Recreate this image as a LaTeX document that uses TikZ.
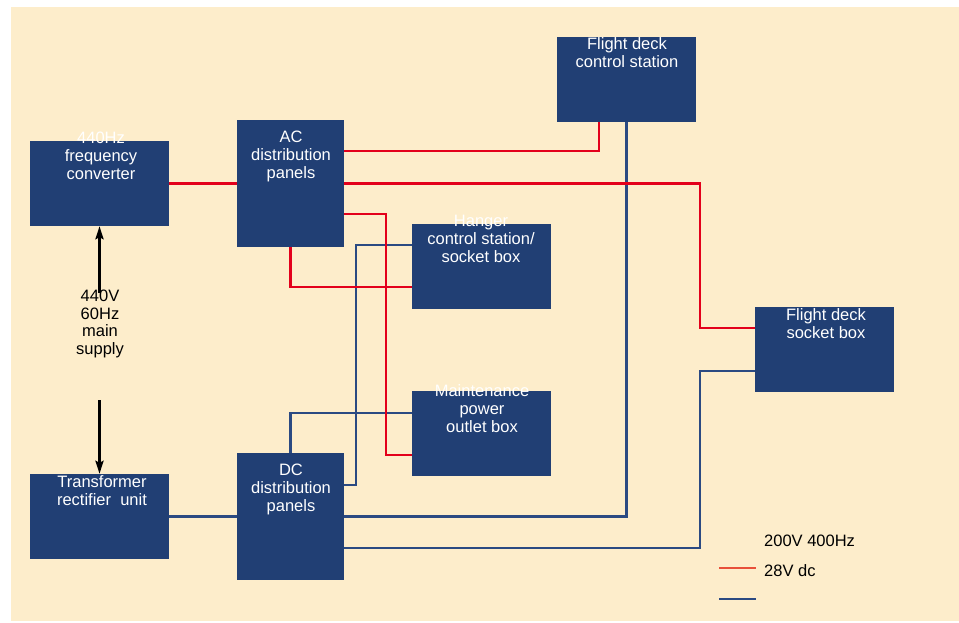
\documentclass[tikz,border=0pt]{standalone}
\usepackage{fontspec}
\setmainfont{Liberation Sans}
\usetikzlibrary{arrows.meta,backgrounds}
\definecolor{cream}{HTML}{FDEDCB}
\definecolor{navy}{HTML}{213F74}
\definecolor{redl}{HTML}{E3001B}
\definecolor{bluel}{HTML}{2B4A82}
\definecolor{legred}{HTML}{E8503A}
\begin{document}
\begin{tikzpicture}[x=1pt,y=-1pt,
  unitbox/.style={draw=none,fill=navy,inner sep=0pt,minimum width=139pt,minimum height=85pt},
  panelbox/.style={draw=none,fill=navy,inner sep=0pt,minimum width=107pt,minimum height=127pt},
  boxtext/.style={text=white,inner sep=0pt,anchor=north,align=center,font=\fontsize{16.5}{18}\selectfont},
  plaintext/.style={text=black,inner sep=0pt,font=\fontsize{16.5}{17.5}\selectfont},
  acline/.style={draw=redl,line width=2.5pt},
  dcline/.style={draw=bluel,line width=2.2pt},
  feed/.style={draw=black,line width=2.5pt,-{Stealth[length=13pt,width=8pt,inset=2pt]}}]
\useasboundingbox (0,0) rectangle (959,623);
% boxes
\path (99.5,183.5) node[unitbox] (fc) {};
\path (290.5,183.5) node[panelbox] (ac) {};
\path (99.5,516.5) node[unitbox] (tru) {};
\path (290.5,516.5) node[panelbox] (dc) {};
\path (481.5,266) node[unitbox] (hg) {};
\path (481.5,433.5) node[unitbox] (mt) {};
\path (626.5,79.5) node[unitbox] (fdc) {};
\path (824.5,349.5) node[unitbox] (fds) {};
\begin{pgfonlayer}{background}
\fill[cream] (11,7) rectangle (959,621);
% dc lines
\draw[dcline] (tru.east) -- (dc.west);
\draw[dcline] (dc.east |- 0,485) -- (356,485) -- (356,245) -- (hg.west |- 0,245);
\draw[dcline] (dc.north) -- (dc.north |- 0,413) -- (mt.west |- 0,413);
\draw[dcline] (dc.east) -| (fdc.south);
\draw[dcline] (dc.east |- 0,548) -- (700,548) -- (700,371) -- (fds.west |- 0,371);
% ac lines
\draw[acline] (fc.east) -- (ac.west);
\draw[acline] (ac.east |- 0,151) -- (599,151) -- (599,0 |- fdc.south);
\draw[acline] (ac.east) -- (700,183.5) -- (700,328) -- (fds.west |- 0,328);
\draw[acline] (ac.east |- 0,214) -- (386,214) -- (386,455) -- (mt.west |- 0,455);
\draw[acline] (ac.south) -- (ac.south |- 0,287) -- (hg.west |- 0,287);
\end{pgfonlayer}
% labels
\node[boxtext] (fcl) at (101,132) {440Hz\\frequency\\converter};
\node[boxtext] (acl) at (291,131) {AC\\distribution\\panels};
\node[boxtext] (trul) at (102,475) {Transformer\\rectifier\ \ unit};
\node[boxtext] (dcl) at (291,464) {DC\\distribution\\panels};
\node[boxtext] (hgl) at (481,215) {Hanger\\control station/\\socket box};
\node[boxtext] (mtl) at (482,384) {Maintenance\\power\\outlet box};
\node[boxtext] (fdcl) at (627,37) {Flight deck\\control station};
\node[boxtext] (fdsl) at (826,308) {Flight deck\\socket box};
% supply
\coordinate (supTop) at (99.5,293);
\coordinate (supBot) at (99.5,400);
\draw[feed] (supTop) -- (fc.south);
\draw[feed] (supBot) -- (tru.north);
\node[plaintext,anchor=north,align=center] (supl) at (100,290) {440V\\60Hz\\main\\supply};
% legend
\coordinate (lr1) at (719,568);
\coordinate (lr2) at (756,568);
\coordinate (lb1) at (719,599);
\coordinate (lb2) at (756,599);
\draw[draw=legred,line width=2.5pt] (lr1) -- (lr2);
\draw[dcline] (lb1) -- (lb2);
\node[plaintext,anchor=base west] (leg1) at (764,546.5) {200V 400Hz};
\node[plaintext,anchor=base west] (leg2) at (764,576.5) {28V dc};
\end{tikzpicture}
\end{document}
